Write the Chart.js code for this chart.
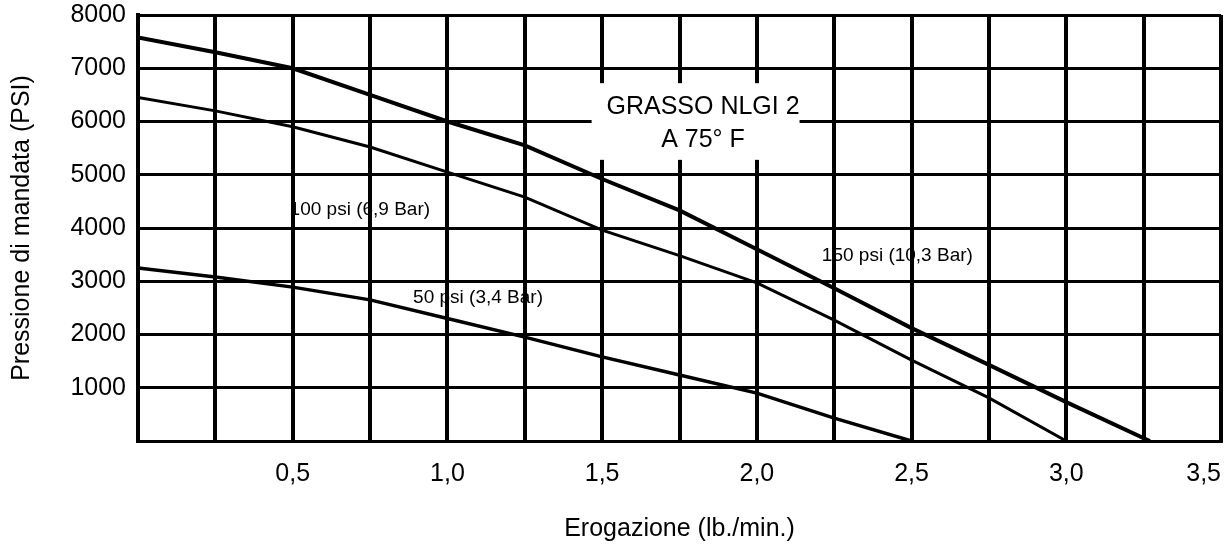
<!DOCTYPE html>
<html>
<head>
<meta charset="utf-8">
<script src="https://cdn.jsdelivr.net/npm/chart.js@4/dist/chart.umd.min.js"></script>
<style>
html,body{margin:0;padding:0;background:#fff;}
#wrap{width:1226px;height:547px;position:relative;}
</style>
</head>
<body>
<div id="wrap"><canvas id="c" width="1226" height="547"></canvas></div>
<script>
// Data (flow in lb./min., pressure in PSI)
const flow150 = [0, 0.25, 0.5, 0.75, 1.0, 1.25, 1.5, 1.75, 2.0, 2.25, 2.5, 2.75, 3.0, 3.27];
const pres150 = [7580, 7300, 7000, 6500, 6000, 5550, 4920, 4330, 3600, 2870, 2120, 1430, 730, 0];

const flow100 = [0, 0.25, 0.5, 0.75, 1.0, 1.25, 1.5, 1.75, 2.0, 2.25, 2.5, 2.75, 3.0];
const pres100 = [6450, 6200, 5900, 5520, 5050, 4580, 3960, 3480, 2970, 2270, 1520, 810, 0];

const flow50 = [0, 0.25, 0.5, 0.75, 1.0, 1.25, 1.5, 1.75, 2.0, 2.25, 2.5];
const pres50 = [3250, 3080, 2890, 2650, 2300, 1950, 1580, 1240, 900, 430, 0];

const seriesLabels = ["150 psi (10,3 Bar)", "100 psi (6,9 Bar)", "50 psi (3,4 Bar)"];
const xTickValues = [0.5, 1.0, 1.5, 2.0, 2.5, 3.0, 3.5];
const yTickValues = [1000, 2000, 3000, 4000, 5000, 6000, 7000, 8000];
const titleLines = ["GRASSO NLGI 2", "A 75° F"];

const FONT = "'Liberation Sans', Arial, Helvetica, sans-serif";

function pts(xs, ys) { return xs.map((x, i) => ({x: x, y: ys[i]})); }

const annotPlugin = {
  id: 'annot',
  beforeDatasetsDraw(chart) {
    const ctx = chart.ctx, xs = chart.scales.x, ys = chart.scales.y;
    // white box behind title
    const x0 = xs.getPixelForValue(1.466), x1 = xs.getPixelForValue(2.138);
    const y0 = ys.getPixelForValue(6720), y1 = ys.getPixelForValue(5280);
    ctx.save();
    ctx.fillStyle = '#fff';
    ctx.fillRect(x0, y0, x1 - x0, y1 - y0);
    ctx.fillStyle = '#000';
    ctx.font = '25px ' + FONT;
    ctx.textAlign = 'center';
    ctx.textBaseline = 'middle';
    ctx.fillText(titleLines[0], xs.getPixelForValue(1.826), ys.getPixelForValue(6270));
    ctx.fillText(titleLines[1], xs.getPixelForValue(1.826), ys.getPixelForValue(5650));
    // series labels
    ctx.font = '19px ' + FONT;
    ctx.textAlign = 'left';
    const labelPos = [[2.21, 3470], [0.49, 4340], [0.889, 2690]];
    seriesLabels.forEach((t, i) => {
      ctx.fillText(t, xs.getPixelForValue(labelPos[i][0]), ys.getPixelForValue(labelPos[i][1]));
    });
    ctx.restore();
  }
};

new Chart(document.getElementById('c'), {
  type: 'scatter',
  data: {
    datasets: [
      {label: seriesLabels[0], data: pts(flow150, pres150), showLine: true, borderColor: '#000', borderWidth: 4, pointRadius: 0, tension: 0},
      {label: seriesLabels[1], data: pts(flow100, pres100), showLine: true, borderColor: '#000', borderWidth: 3, pointRadius: 0, tension: 0},
      {label: seriesLabels[2], data: pts(flow50, pres50), showLine: true, borderColor: '#000', borderWidth: 3.5, pointRadius: 0, tension: 0}
    ]
  },
  options: {
    responsive: false,
    animation: false,
    layout: {padding: {left: 0, right: 5, top: 15, bottom: 0}},
    plugins: {legend: {display: false}, tooltip: {enabled: false}},
    scales: {
      x: {
        type: 'linear', min: 0, max: 3.5,
        afterBuildTicks(scale) {
          const t = [];
          for (let v = 0; v <= 3.5001; v += 0.25) t.push({value: Math.round(v * 100) / 100});
          scale.ticks = t;
        },
        afterFit(scale) { scale.height = 106; scale.paddingLeft = 0; scale.paddingRight = 0; },
        ticks: {
          color: '#000', font: {size: 25, family: FONT}, padding: 18, maxRotation: 0, autoSkip: false, align: 'inner',
          callback(v) { return xTickValues.includes(v) ? v.toFixed(1).replace('.', ',') : ''; }
        },
        grid: {color: '#000', lineWidth: 4, drawTicks: false},
        border: {color: '#000', width: 3},
        title: {display: true, text: 'Erogazione (lb./min.)', color: '#000', font: {size: 25, family: FONT}, padding: {top: 0, bottom: 3}}
      },
      y: {
        type: 'linear', min: 0, max: 8000,
        afterBuildTicks(scale) {
          const t = [{value: 0}];
          yTickValues.forEach(v => t.push({value: v}));
          scale.ticks = t;
        },
        afterFit(scale) { scale.width = 138; scale.paddingTop = 0; scale.paddingBottom = 0; },
        ticks: {
          color: '#000', font: {size: 25, family: FONT}, padding: 12,
          callback(v) { return yTickValues.includes(v) ? String(v) : ''; }
        },
        grid: {color: '#000', lineWidth: 3, drawTicks: false},
        border: {color: '#000', width: 4},
        title: {display: true, text: 'Pressione di mandata (PSI)', color: '#000', font: {size: 25, family: FONT}, padding: {top: 7, bottom: 0}}
      }
    }
  },
  plugins: [annotPlugin]
});
</script>
</body>
</html>
